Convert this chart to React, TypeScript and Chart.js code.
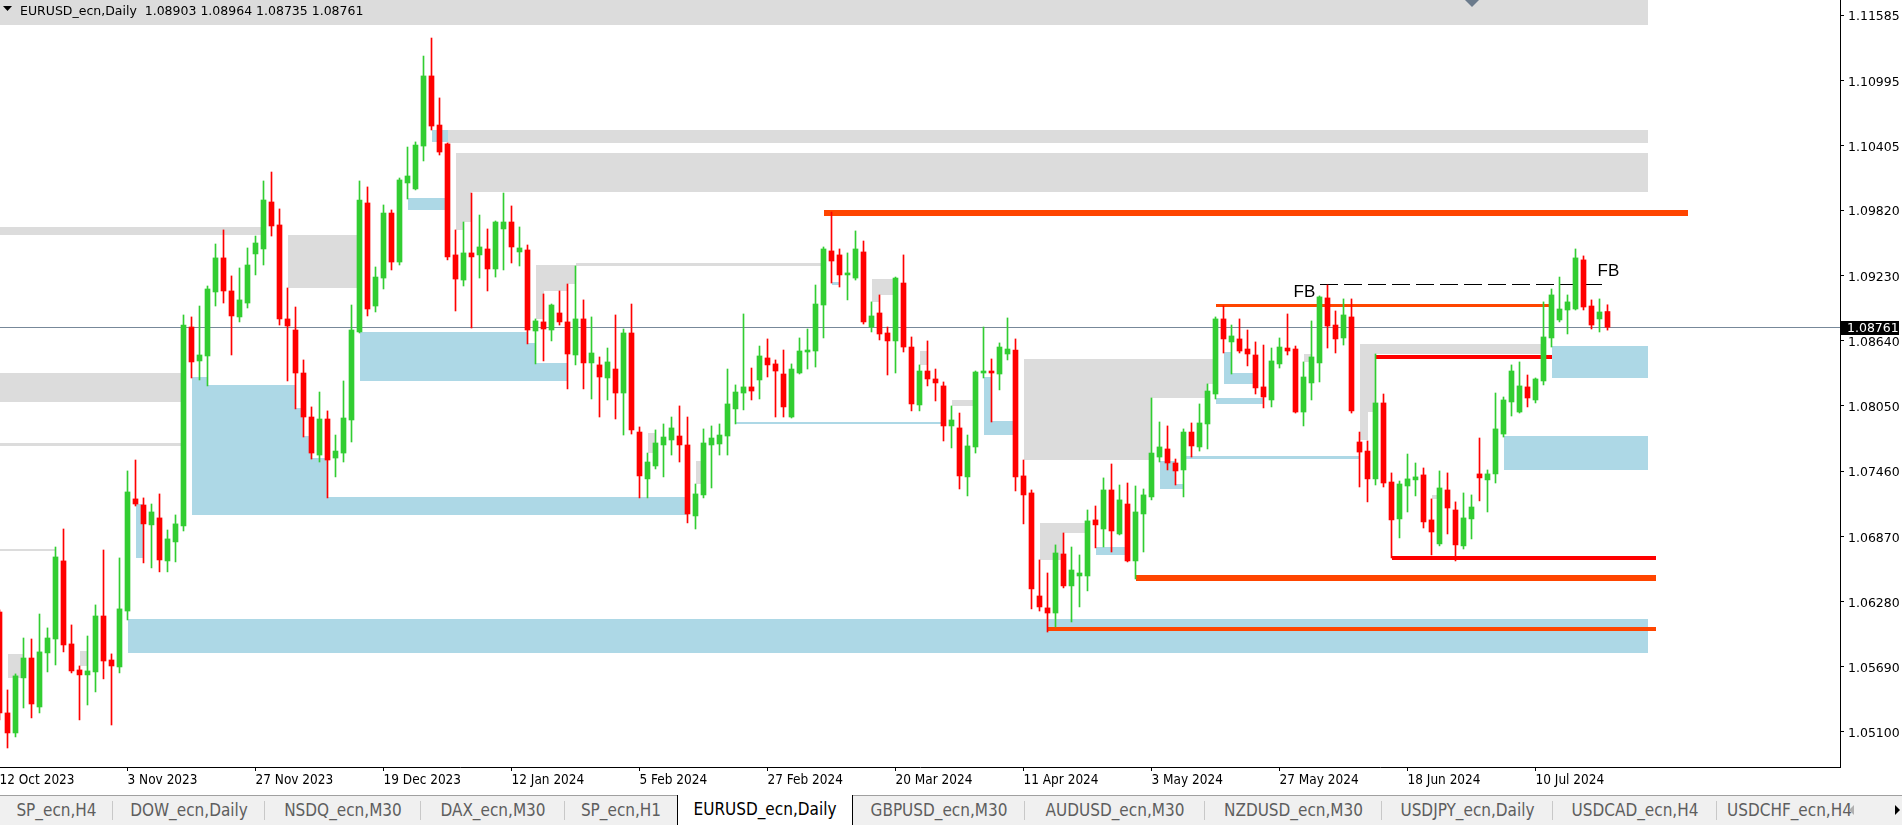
import React, { useEffect, useRef } from "react";
import { Chart, registerables } from "chart.js";

Chart.register(...registerables);

// ---------- DATA (EURUSD_ecn, Daily, from 12 Oct 2023) ----------
const opens = [
  1.06185, 1.05272, 1.05091, 1.05589, 1.05769, 1.05326, 1.05815, 1.05941, 1.06647, 1.05896,
  1.05661, 1.05616, 1.05643, 1.06149, 1.05751, 1.05688, 1.06194, 1.07208, 1.07153, 1.06973,
  1.07036, 1.06647, 1.06819, 1.06964, 1.08763, 1.08456, 1.08501, 1.0908, 1.09388, 1.09089,
  1.08854, 1.0898, 1.09424, 1.09469, 1.09894, 1.09686, 1.08836, 1.08736, 1.08347, 1.07949,
  1.07605, 1.07931, 1.07578, 1.07623, 1.07922, 1.08718, 1.09885, 1.08953, 1.09206, 1.09794,
  1.09351, 1.10066, 1.10012, 1.104, 1.11034, 1.1059, 1.10419, 1.09415, 1.09188, 1.09433,
  1.09415, 1.09469, 1.09288, 1.0965, 1.09713, 1.09442, 1.0946, 1.08727, 1.08809, 1.08736,
  1.0889, 1.08809, 1.0851, 1.08836, 1.08438, 1.0842, 1.08302, 1.08383, 1.08166, 1.08709,
  1.07813, 1.07389, 1.07506, 1.07696, 1.07741, 1.07777, 1.07696, 1.07054, 1.07244, 1.07696,
  1.07705, 1.07777, 1.08022, 1.08166, 1.08221, 1.08284, 1.08483, 1.08429, 1.08338, 1.07949,
  1.08347, 1.08537, 1.08546, 1.08962, 1.09451, 1.09415, 1.09234, 1.09206, 1.09442, 1.08763,
  1.0889, 1.08709, 1.08637, 1.09161, 1.08582, 1.08058, 1.08365, 1.08293, 1.0823, 1.07868,
  1.0785, 1.07407, 1.07678, 1.08347, 1.08365, 1.08338, 1.08519, 1.08555, 1.07416, 1.07262,
  1.0633, 1.06222, 1.06176, 1.0671, 1.06421, 1.06511, 1.06511, 1.07018, 1.06936, 1.07289,
  1.06891, 1.07162, 1.06647, 1.07072, 1.07226, 1.07587, 1.0766, 1.07533, 1.0747, 1.07813,
  1.07678, 1.07886, 1.08157, 1.08836, 1.08628, 1.08655, 1.08564, 1.0851, 1.08221, 1.08103,
  1.08429, 1.08573, 1.08564, 1.07994, 1.08257, 1.08438, 1.09026, 1.08781, 1.08664, 1.08854,
  1.07723, 1.07641, 1.07389, 1.08076, 1.07361, 1.07027, 1.07325, 1.0738, 1.07425, 1.07018,
  1.06801, 1.07289, 1.07108, 1.06783, 1.07027, 1.07434, 1.0738, 1.07434, 1.07795, 1.08085,
  1.07994, 1.08221, 1.08103, 1.08275, 1.08664, 1.08827, 1.08917, 1.08926, 1.0937, 1.08953,
  1.08836, 1.08903,
];
const highs = [
  1.06204, 1.0548, 1.05625, 1.0595, 1.05941, 1.06167, 1.06041, 1.06773, 1.06936, 1.06068,
  1.05697, 1.05968, 1.06249, 1.06746, 1.05806, 1.06674, 1.07461, 1.0756, 1.07217, 1.07162,
  1.07253, 1.06927, 1.07063, 1.08872, 1.08854, 1.08953, 1.09134, 1.09514, 1.09641, 1.09225,
  1.09297, 1.09478, 1.09586, 1.10084, 1.10165, 1.09831, 1.09116, 1.08944, 1.08465, 1.0804,
  1.08175, 1.08004, 1.07786, 1.08275, 1.08962, 1.10084, 1.1003, 1.09306, 1.09867, 1.09822,
  1.10111, 1.10391, 1.10437, 1.11214, 1.11377, 1.10835, 1.10428, 1.09641, 1.09713, 1.09975,
  1.09776, 1.0965, 1.09722, 1.09975, 1.09858, 1.09668, 1.09505, 1.08836, 1.09062, 1.08971,
  1.09089, 1.09152, 1.09315, 1.09008, 1.08854, 1.08492, 1.08573, 1.08872, 1.08745, 1.08971,
  1.07859, 1.07623, 1.07832, 1.07886, 1.07949, 1.08049, 1.07949, 1.07343, 1.07841, 1.07868,
  1.07886, 1.08383, 1.08239, 1.08881, 1.08392, 1.08591, 1.08655, 1.08465, 1.08555, 1.08429,
  1.08664, 1.08745, 1.09143, 1.09487, 1.09803, 1.09469, 1.09433, 1.09632, 1.09541, 1.0899,
  1.09053, 1.08763, 1.09215, 1.09415, 1.08673, 1.0842, 1.08637, 1.08383, 1.08266, 1.08049,
  1.07985, 1.07786, 1.08365, 1.08763, 1.08474, 1.08619, 1.08845, 1.08655, 1.0756, 1.07289,
  1.06656, 1.06538, 1.06792, 1.069, 1.06773, 1.06701, 1.07108, 1.07144, 1.07398, 1.07524,
  1.07334, 1.07352, 1.07325, 1.07298, 1.08121, 1.07904, 1.07868, 1.07569, 1.07841, 1.07895,
  1.08067, 1.08248, 1.08854, 1.08953, 1.08781, 1.08836, 1.08736, 1.08628, 1.086, 1.08573,
  1.08664, 1.08881, 1.08591, 1.08447, 1.08818, 1.09044, 1.09143, 1.08908, 1.09017, 1.09017,
  1.07813, 1.07732, 1.08519, 1.08157, 1.07443, 1.0737, 1.07614, 1.07533, 1.07488, 1.07208,
  1.07461, 1.07443, 1.07181, 1.07262, 1.07244, 1.07759, 1.0747, 1.08166, 1.0813, 1.0842,
  1.08447, 1.08329, 1.08302, 1.0899, 1.09107, 1.09215, 1.09053, 1.09469, 1.09406, 1.09008,
  1.09017, 1.08964,
];
const lows = [
  1.05209, 1.04955, 1.05055, 1.05317, 1.05227, 1.05272, 1.05643, 1.05706, 1.05824, 1.05634,
  1.05209, 1.05344, 1.05462, 1.0558, 1.05163, 1.05634, 1.06113, 1.07144, 1.06629, 1.06584,
  1.06548, 1.06548, 1.06638, 1.06918, 1.08302, 1.08284, 1.0823, 1.08953, 1.0898, 1.0851,
  1.08809, 1.08935, 1.09234, 1.09324, 1.09586, 1.08781, 1.08275, 1.08022, 1.07768, 1.07569,
  1.07542, 1.07217, 1.07407, 1.07542, 1.07723, 1.08709, 1.08863, 1.08899, 1.09107, 1.09279,
  1.09324, 1.09921, 1.10003, 1.10265, 1.10545, 1.10319, 1.0937, 1.08908, 1.09134, 1.08754,
  1.09206, 1.09089, 1.09215, 1.09279, 1.09342, 1.09315, 1.0861, 1.08429, 1.08456, 1.08637,
  1.08781, 1.08203, 1.0842, 1.08203, 1.08112, 1.07949, 1.08103, 1.07931, 1.07786, 1.07795,
  1.07217, 1.07217, 1.07479, 1.07407, 1.07605, 1.07542, 1.06991, 1.06936, 1.07217, 1.07307,
  1.07605, 1.07605, 1.07886, 1.08013, 1.08103, 1.08112, 1.08311, 1.07949, 1.07949, 1.0794,
  1.08338, 1.08383, 1.08401, 1.08664, 1.09161, 1.09125, 1.09008, 1.09188, 1.0879, 1.08718,
  1.08646, 1.08329, 1.08347, 1.08537, 1.08004, 1.08004, 1.0823, 1.08094, 1.07732, 1.07669,
  1.07298, 1.07235, 1.07623, 1.08302, 1.07904, 1.08194, 1.08465, 1.0728, 1.06982, 1.06213,
  1.06194, 1.06004, 1.0605, 1.06403, 1.06095, 1.06231, 1.06376, 1.06765, 1.06773, 1.06728,
  1.06882, 1.06638, 1.06484, 1.06728, 1.07199, 1.07542, 1.0747, 1.07334, 1.07226, 1.07587,
  1.07641, 1.0766, 1.08112, 1.08528, 1.08338, 1.08528, 1.08411, 1.08157, 1.08031, 1.0804,
  1.08392, 1.0851, 1.07985, 1.07868, 1.08103, 1.08266, 1.08573, 1.08528, 1.086, 1.07985,
  1.07316, 1.07181, 1.07334, 1.07316, 1.06674, 1.06855, 1.0709, 1.07235, 1.06945, 1.06701,
  1.06783, 1.06891, 1.06647, 1.06755, 1.06846, 1.0719, 1.0709, 1.07352, 1.07768, 1.07958,
  1.07985, 1.0804, 1.08076, 1.08239, 1.08582, 1.08809, 1.087, 1.08917, 1.08917, 1.08745,
  1.08718, 1.08735,
];
const closes = [
  1.05272, 1.05091, 1.05607, 1.05769, 1.05353, 1.05824, 1.0595, 1.06683, 1.05887, 1.05652,
  1.05616, 1.05652, 1.06149, 1.05742, 1.05697, 1.06213, 1.07271, 1.07162, 1.06982, 1.0709,
  1.06656, 1.06846, 1.06982, 1.08781, 1.08447, 1.0851, 1.09107, 1.09388, 1.09089, 1.08863,
  1.09008, 1.09324, 1.09523, 1.09912, 1.09677, 1.08836, 1.08772, 1.08347, 1.07949, 1.07623,
  1.07931, 1.0756, 1.07641, 1.0794, 1.08736, 1.09912, 1.08926, 1.09215, 1.09794, 1.09351,
  1.10093, 1.10129, 1.10409, 1.11034, 1.10581, 1.10346, 1.09397, 1.09197, 1.09433, 1.09397,
  1.09487, 1.09288, 1.09713, 1.09713, 1.09487, 1.09478, 1.08736, 1.08818, 1.08745, 1.08962,
  1.08809, 1.08519, 1.08836, 1.08438, 1.08528, 1.08311, 1.08447, 1.08166, 1.08709, 1.07832,
  1.07416, 1.07542, 1.07714, 1.07768, 1.0785, 1.07696, 1.07072, 1.07253, 1.07714, 1.07759,
  1.07786, 1.08067, 1.08175, 1.08221, 1.08184, 1.08501, 1.0842, 1.08365, 1.0804, 1.08383,
  1.08546, 1.08555, 1.08971, 1.09469, 1.0936, 1.09234, 1.09252, 1.09469, 1.08809, 1.08863,
  1.087, 1.08637, 1.09206, 1.08582, 1.08067, 1.08365, 1.08293, 1.08257, 1.07868, 1.07922,
  1.07416, 1.07687, 1.08356, 1.08365, 1.08347, 1.08582, 1.08564, 1.07407, 1.07244, 1.06394,
  1.06231, 1.06176, 1.06719, 1.06421, 1.06565, 1.06538, 1.07009, 1.06973, 1.07289, 1.06918,
  1.07199, 1.06647, 1.0709, 1.07244, 1.07623, 1.07678, 1.07533, 1.07461, 1.07813, 1.07687,
  1.07895, 1.08184, 1.08836, 1.08655, 1.08682, 1.08546, 1.08519, 1.08212, 1.0813, 1.08456,
  1.08582, 1.08546, 1.07994, 1.08311, 1.08492, 1.09035, 1.08772, 1.08655, 1.08872, 1.08004,
  1.07632, 1.07389, 1.08076, 1.07352, 1.07018, 1.07343, 1.07389, 1.07407, 1.07, 1.06909,
  1.07307, 1.07126, 1.06792, 1.07036, 1.07135, 1.07398, 1.07434, 1.07841, 1.08103, 1.08365,
  1.0823, 1.08121, 1.08293, 1.08673, 1.09053, 1.08926, 1.0899, 1.09388, 1.08944, 1.08781,
  1.08899, 1.08761,
];

const dateLabels = [
  "12 Oct 2023", "3 Nov 2023", "27 Nov 2023", "19 Dec 2023", "12 Jan 2024", "5 Feb 2024",
  "27 Feb 2024", "20 Mar 2024", "11 Apr 2024", "3 May 2024", "27 May 2024", "18 Jun 2024", "10 Jul 2024",
];
const dateTickBars = [0, 16, 32, 48, 64, 80, 96, 112, 128, 144, 160, 176, 192];
const priceTicks = [1.051, 1.0569, 1.0628, 1.0687, 1.0746, 1.0805, 1.0864, 1.0923, 1.0982, 1.10405, 1.10995, 1.11585];

const symbolTitle = "EURUSD_ecn,Daily";

// zones: [fromBar, toBar, topPrice, bottomPrice]
const greyZones = [
  [-1, 206, 1.125, 1.11495],
  [56, 206, 1.10545, 1.10428],
  [57, 206, 1.10337, 1.09984],
  [57, 59, 1.09984, 1.09713],
  [57, 58, 1.09713, 1.09641],
  [36, 45, 1.09595, 1.09116],
  [-1, 33, 1.09668, 1.09595],
  [-1, 23, 1.08347, 1.08085],
  [-1, 23, 1.07714, 1.07687],
  [-1, 7, 1.06755, 1.06737],
  [1, 3, 1.05806, 1.05589],
  [10, 11, 1.05833, 1.05697],
  [67, 72, 1.09324, 1.09152],
  [67, 71, 1.09152, 1.09089],
  [67, 68, 1.09089, 1.08836],
  [72, 103, 1.09338, 1.09315],
  [81, 82, 1.07805, 1.07624],
  [87, 88, 1.07551, 1.07343],
  [109, 112, 1.09197, 1.09053],
  [109, 110, 1.09053, 1.0899],
  [115, 116, 1.08546, 1.0842],
  [119, 122, 1.08103, 1.08049],
  [128, 152, 1.08474, 1.08248],
  [128, 151, 1.08248, 1.08121],
  [128, 144, 1.08121, 1.0756],
  [130, 136, 1.06991, 1.069],
  [130, 133, 1.069, 1.06656],
  [163, 164, 1.08519, 1.08447],
  [170, 193, 1.0861, 1.08519],
  [170, 172, 1.08519, 1.07994],
  [170, 171, 1.07994, 1.07741],
  [179, 180, 1.07244, 1.07208],
];
const blueZones = [
  [24, 26, 1.08311, 1.07063],
  [26, 37, 1.08239, 1.07063],
  [37, 38, 1.08031, 1.07063],
  [38, 39, 1.07777, 1.07063],
  [39, 41, 1.07578, 1.07063],
  [41, 86, 1.07226, 1.07063],
  [45, 66, 1.08718, 1.08275],
  [66, 67, 1.08619, 1.08275],
  [67, 71, 1.08438, 1.08275],
  [51, 56, 1.0993, 1.09822],
  [54, 56, 1.10545, 1.10437],
  [17, 18, 1.07162, 1.06674],
  [16, 206, 1.06122, 1.05815],
  [104, 105, 1.0917, 1.09143],
  [92, 118, 1.07904, 1.07886],
  [123, 124, 1.08311, 1.07786],
  [124, 127, 1.07913, 1.07786],
  [137, 141, 1.06773, 1.06701],
  [145, 147, 1.07551, 1.07298],
  [147, 148, 1.07343, 1.07298],
  [148, 170, 1.07596, 1.07569],
  [153, 154, 1.08537, 1.08248],
  [154, 157, 1.08347, 1.08248],
  [152, 158, 1.08121, 1.08067],
  [194, 206, 1.08591, 1.08302],
  [188, 206, 1.07777, 1.0747],
];
// level lines: [fromBar, toBar, price]
const orangeLevels = [
  [103, 211, 1.09794],
  [152, 194, 1.08962],
  [142, 207, 1.06493],
  [131, 207, 1.06032],
];
const redLevels = [
  [172, 194, 1.08492],
  [174, 207, 1.06678],
];
const dashedLevel = [165, 200.4, 1.09148];
const fbMarks = [
  [161.75, 1.09089, "FB"],
  [199.75, 1.09279, "FB"],
];
const shiftMarkerBar = 184;

const tabLabels = [
  "SP_ecn,H4", "DOW_ecn,Daily", "NSDQ_ecn,M30", "DAX_ecn,M30", "SP_ecn,H1", "EURUSD_ecn,Daily",
  "GBPUSD_ecn,M30", "AUDUSD_ecn,M30", "NZDUSD_ecn,M30", "USDJPY_ecn,Daily", "USDCAD_ecn,H4", "USDCHF_ecn,H4",
];

// ---------- STYLE / LAYOUT ----------
const UP = "#32CD32";
const DOWN = "#FF0000";
const GREY_ZONE = "#DCDCDC";
const BLUE_ZONE = "#ADD8E6";
const ORANGE = "#FF4500";
const RED = "#FF0000";
const orangeWidths = [6, 3, 6, 4];
const redWidths = [4, 4];
const X_MIN = 0.0625;
const X_MAX = 230.0625;
const Y_MIN = 1.04783;
const Y_MAX = 1.11721;
const AXIS_FONT = "'DejaVu Sans', Verdana, sans-serif";
const COND_FONT = "'DejaVu Sans Condensed', 'Liberation Sans Narrow', 'Arial Narrow', 'DejaVu Sans', sans-serif";
const tabEdges = [0, 113, 265, 421, 565, 677, 853, 1025, 1205, 1382, 1553, 1717, 1862];

const overlayPlugin = {
  id: "mtOverlay",
  beforeDatasetsDraw(chart: any) {
    const { ctx, chartArea: a } = chart;
    const xs = chart.scales.x;
    const ys = chart.scales.y;
    const px = (v: number) => Math.round(xs.getPixelForValue(v));
    const py = (v: number) => ys.getPixelForValue(v);
    ctx.save();
    ctx.beginPath();
    ctx.rect(a.left, a.top, a.right - a.left, a.bottom - a.top);
    ctx.clip();
    const zone = (z: any, color: string) => {
      const x1 = px(z[0]);
      const x2 = px(z[1]);
      const y1 = Math.round(py(z[2]));
      const y2 = Math.round(py(z[3]));
      ctx.fillStyle = color;
      ctx.fillRect(x1, y1, x2 - x1, Math.max(1, y2 - y1));
    };
    greyZones.forEach((z) => zone(z, GREY_ZONE));
    blueZones.forEach((z) => zone(z, BLUE_ZONE));
    const level = (l: any, color: string, w: number) => {
      const x1 = px(l[0]);
      const x2 = px(l[1]);
      const yc = py(l[2]);
      ctx.fillStyle = color;
      ctx.fillRect(x1, Math.round(yc - w / 2), x2 - x1, w);
    };
    orangeLevels.forEach((l, i) => level(l, ORANGE, orangeWidths[i]));
    redLevels.forEach((l, i) => level(l, RED, redWidths[i]));
    // dashed
    ctx.strokeStyle = "#000";
    ctx.lineWidth = 1;
    ctx.setLineDash([18, 6]);
    const dy = Math.round(py(dashedLevel[2])) + 0.5;
    ctx.beginPath();
    ctx.moveTo(px(dashedLevel[0]), dy);
    ctx.lineTo(px(dashedLevel[1]), dy);
    ctx.stroke();
    ctx.setLineDash([]);
    // FB labels
    ctx.fillStyle = "#000";
    ctx.font = "17px 'Liberation Sans', Arial, sans-serif";
    ctx.textBaseline = "middle";
    ctx.textAlign = "left";
    fbMarks.forEach((m: any) => ctx.fillText(m[2], xs.getPixelForValue(m[0]), py(m[1]) + 1));
    // bid line
    const last = closes.length - 1;
    const ly = Math.round(py(closes[last])) + 0.5;
    ctx.strokeStyle = "#778899";
    ctx.beginPath();
    ctx.moveTo(a.left, ly);
    ctx.lineTo(a.right, ly);
    ctx.stroke();
    ctx.restore();
  },
  afterDraw(chart: any) {
    const { ctx, chartArea: a } = chart;
    const xs = chart.scales.x;
    const ys = chart.scales.y;
    const last = closes.length - 1;
    ctx.save();
    // price label
    const yc = Math.round(ys.getPixelForValue(closes[last]));
    ctx.fillStyle = "#000";
    ctx.fillRect(a.right + 1, yc - 6, 58, 14);
    ctx.fillStyle = "#fff";
    ctx.font = "12.5px " + AXIS_FONT;
    ctx.textBaseline = "middle";
    ctx.textAlign = "left";
    ctx.fillText(closes[last].toFixed(5), a.right + 7, yc + 1.5);
    // header
    ctx.fillStyle = "#000";
    ctx.beginPath();
    ctx.moveTo(3, 6);
    ctx.lineTo(12, 6);
    ctx.lineTo(7.5, 11);
    ctx.closePath();
    ctx.fill();
    ctx.font = "12.5px " + AXIS_FONT;
    ctx.fillText(
      `${symbolTitle}  ${opens[last].toFixed(5)} ${highs[last].toFixed(5)} ${lows[last].toFixed(5)} ${closes[last].toFixed(5)}`,
      20,
      12
    );
    // shift marker
    const mx = Math.round(xs.getPixelForValue(shiftMarkerBar));
    ctx.fillStyle = "#6B7B8C";
    ctx.beginPath();
    ctx.moveTo(mx - 7, 0);
    ctx.lineTo(mx + 7, 0);
    ctx.lineTo(mx, 7);
    ctx.closePath();
    ctx.fill();
    ctx.restore();
  },
};

function CandleChart() {
  const ref = useRef<HTMLCanvasElement | null>(null);
  useEffect(() => {
    if (!ref.current) return;
    const colors = closes.map((c, i) => (c >= opens[i] ? UP : DOWN));
    const wickData = highs.map((h, i) => ({ x: i, y: [lows[i], h] }));
    const bodyData = opens.map((o, i) => ({ x: i, y: [o, closes[i]] }));
    const chart = new Chart(ref.current, {
      type: "bar",
      data: {
        datasets: [
          {
            label: "body",
            data: bodyData as any,
            backgroundColor: colors,
            barThickness: 5,
            minBarLength: 1,
            grouped: false,
            borderWidth: 0,
            order: 1,
          } as any,
          {
            label: "wick",
            data: wickData as any,
            backgroundColor: colors,
            barThickness: 1,
            grouped: false,
            borderWidth: 0,
            order: 2,
          } as any,
        ],
      },
      options: {
        animation: false,
        responsive: true,
        maintainAspectRatio: false,
        events: [],
        layout: { padding: 0 },
        plugins: { legend: { display: false }, tooltip: { enabled: false } },
        scales: {
          x: {
            type: "linear",
            min: X_MIN,
            max: X_MAX,
            offset: false,
            position: "bottom",
            grid: { drawOnChartArea: false, drawTicks: true, tickLength: 4, color: "#000", offset: false },
            border: { display: true, color: "#000", width: 1 },
            afterBuildTicks: (s: any) => {
              s.ticks = dateTickBars.map((v) => ({ value: v }));
            },
            afterFit: (s: any) => {
              s.height = 28;
              s.paddingLeft = 0;
              s.paddingRight = 0;
            },
            ticks: {
              autoSkip: false,
              maxRotation: 0,
              minRotation: 0,
              align: "start",
              padding: 1,
              color: "#000",
              font: { family: COND_FONT, size: 13.5 },
              callback: (_v: any, idx: number) => dateLabels[idx],
            },
          } as any,
          y: {
            type: "linear",
            position: "right",
            min: Y_MIN,
            max: Y_MAX,
            grid: { drawOnChartArea: false, drawTicks: true, tickLength: 4, color: "#000" },
            border: { display: true, color: "#000", width: 1 },
            afterBuildTicks: (s: any) => {
              s.ticks = priceTicks.map((v) => ({ value: v }));
            },
            afterFit: (s: any) => {
              s.width = 62;
              s.paddingTop = 0;
              s.paddingBottom = 0;
            },
            ticks: {
              autoSkip: false,
              padding: 4,
              labelOffset: 2,
              color: "#000",
              font: { family: AXIS_FONT, size: 12.5 },
              callback: (v: any) => Number(v).toFixed(5),
            },
          } as any,
        },
      },
      plugins: [overlayPlugin],
    });
    return () => chart.destroy();
  }, []);
  return (
    <div style={{ position: "absolute", left: 0, top: 0, width: 1902, height: 795 }}>
      <canvas ref={ref} />
    </div>
  );
}

function TabBar() {
  return (
    <div
      style={{
        position: "absolute",
        left: 0,
        top: 795,
        width: 1902,
        height: 30,
        background: "#F0F0F0",
        borderTop: "1px solid #A0A0A0",
        boxSizing: "border-box",
        fontFamily: COND_FONT,
        fontSize: 17,
      }}
    >
      {tabLabels.map((t, i) => {
        const active = t === symbolTitle;
        const left = tabEdges[i];
        const width = tabEdges[i + 1] - tabEdges[i];
        return (
          <div
            key={t}
            style={{
              position: "absolute",
              left,
              top: active ? -1 : 0,
              width,
              height: active ? 30 : 29,
              boxSizing: "border-box",
              background: active ? "#FFFFFF" : "transparent",
              borderLeft: active ? "1px solid #000" : "none",
              borderRight: active ? "1px solid #000" : "none",
              color: active ? "#000" : "#5E5E5E",
              textAlign: "center",
              lineHeight: "29px",
              whiteSpace: "nowrap",
              overflow: "hidden",
            }}
          >
            {t}
            {!active && tabLabels[i + 1] !== symbolTitle && i < tabLabels.length - 1 && (
              <div
                style={{
                  position: "absolute",
                  right: 0,
                  top: 5,
                  width: 1,
                  height: 19,
                  background: "#C8C8C8",
                }}
              />
            )}
          </div>
        );
      })}
      <div
        style={{
          position: "absolute",
          left: 1849,
          top: 9,
          width: 0,
          height: 0,
          borderTop: "5px solid transparent",
          borderBottom: "5px solid transparent",
          borderRight: "5px solid #B0B0B0",
        }}
      />
      <div
        style={{
          position: "absolute",
          left: 1895,
          top: 9,
          width: 0,
          height: 0,
          borderTop: "5px solid transparent",
          borderBottom: "5px solid transparent",
          borderLeft: "5px solid #000",
        }}
      />
    </div>
  );
}

export default function App() {
  return (
    <div
      style={{
        position: "fixed",
        left: 0,
        top: 0,
        width: 1902,
        height: 825,
        background: "#FFFFFF",
        overflow: "hidden",
      }}
    >
      <CandleChart />
      <TabBar />
    </div>
  );
}
